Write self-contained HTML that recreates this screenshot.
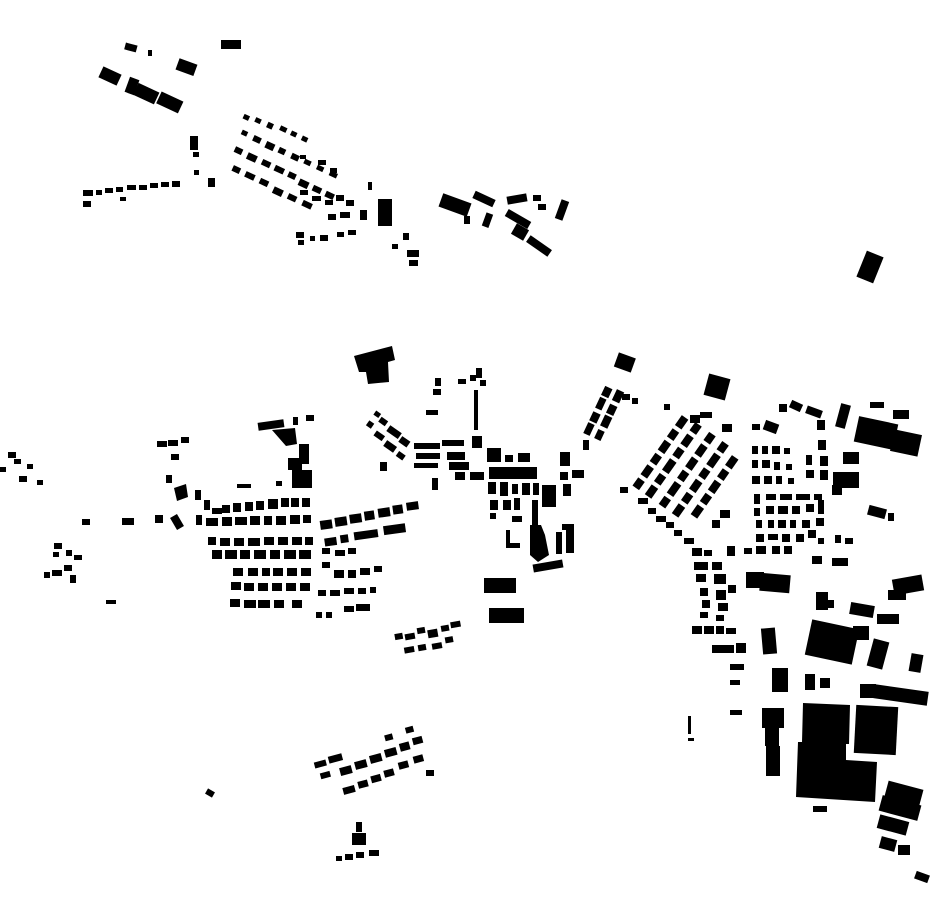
<!DOCTYPE html>
<html><head><meta charset="utf-8"><style>html,body{margin:0;padding:0;background:#fff}svg{display:block}</style></head>
<body>
<svg width="930" height="924" viewBox="0 0 930 924" xmlns="http://www.w3.org/2000/svg" fill="#000">
<!-- top-left cluster -->
<rect x="221" y="40" width="20" height="9"/>
<rect x="125" y="44" width="12" height="7" transform="rotate(15 131 47)"/>
<rect x="148" y="50" width="4" height="6"/>
<rect x="100" y="70" width="20" height="12" transform="rotate(25 110 76)"/>
<rect x="177" y="61" width="19" height="12" transform="rotate(20 186 67)"/>
<rect x="127" y="78" width="10" height="16" transform="rotate(20 132 86)"/>
<rect x="135" y="87" width="23" height="13" transform="rotate(25 146 93)"/>
<rect x="158" y="96" width="24" height="13" transform="rotate(25 170 102)"/>
<rect x="190" y="136" width="8" height="14"/>
<rect x="193" y="152" width="6" height="5"/>
<rect x="194" y="170" width="5" height="5"/>
<rect x="83" y="190" width="10" height="6"/><rect x="83" y="201" width="8" height="6"/>
<rect x="96" y="190" width="6" height="5"/><rect x="105" y="188" width="8" height="5"/>
<rect x="116" y="187" width="7" height="5"/><rect x="127" y="185" width="9" height="5"/>
<rect x="139" y="185" width="8" height="5"/><rect x="150" y="183" width="8" height="5"/>
<rect x="161" y="182" width="8" height="5"/><rect x="172" y="181" width="8" height="6"/>
<rect x="120" y="197" width="6" height="4"/>
<rect x="208" y="178" width="7" height="9"/>
<g transform="rotate(25 280 180)">
<rect x="220" y="135" width="6" height="5"/><rect x="232" y="133" width="6" height="5"/><rect x="245" y="132" width="6" height="6"/>
<rect x="258" y="130" width="7" height="5"/><rect x="270" y="130" width="6" height="5"/><rect x="282" y="130" width="6" height="5"/>
<rect x="225" y="150" width="6" height="5"/><rect x="238" y="150" width="8" height="6"/><rect x="252" y="150" width="9" height="7"/>
<rect x="266" y="150" width="7" height="6"/><rect x="280" y="150" width="8" height="6"/><rect x="294" y="150" width="7" height="5"/>
<rect x="308" y="150" width="7" height="5"/><rect x="322" y="150" width="8" height="5"/>
<rect x="226" y="168" width="8" height="6"/><rect x="240" y="168" width="10" height="7"/><rect x="256" y="168" width="9" height="6"/>
<rect x="270" y="168" width="10" height="6"/><rect x="285" y="168" width="8" height="6"/><rect x="298" y="170" width="10" height="7"/>
<rect x="313" y="170" width="9" height="6"/><rect x="327" y="170" width="9" height="6"/>
<rect x="232" y="186" width="8" height="6"/><rect x="246" y="186" width="10" height="6"/><rect x="262" y="186" width="9" height="6"/>
<rect x="278" y="188" width="10" height="7"/><rect x="294" y="188" width="9" height="6"/><rect x="310" y="188" width="10" height="6"/>
</g>
<rect x="300" y="155" width="6" height="4"/><rect x="318" y="160" width="8" height="5"/><rect x="330" y="168" width="7" height="5"/>
<rect x="300" y="190" width="8" height="5"/><rect x="312" y="196" width="9" height="5"/><rect x="325" y="200" width="8" height="5"/>
<rect x="336" y="195" width="8" height="6"/><rect x="340" y="212" width="10" height="6"/><rect x="328" y="214" width="8" height="6"/>
<rect x="346" y="200" width="8" height="6"/><rect x="360" y="210" width="7" height="10"/>
<rect x="368" y="182" width="4" height="8"/>
<rect x="378" y="199" width="14" height="27"/>
<rect x="296" y="232" width="8" height="6"/><rect x="298" y="240" width="6" height="5"/><rect x="310" y="236" width="5" height="5"/>
<rect x="320" y="235" width="8" height="6"/><rect x="337" y="232" width="7" height="5"/><rect x="348" y="230" width="8" height="5"/>
<rect x="403" y="233" width="6" height="7"/><rect x="392" y="244" width="6" height="5"/>
<rect x="407" y="250" width="12" height="7"/><rect x="409" y="260" width="9" height="6"/>
<rect x="440" y="198" width="30" height="14" transform="rotate(20 455 205)"/>
<rect x="473" y="195" width="22" height="8" transform="rotate(25 484 199)"/>
<rect x="507" y="195" width="20" height="8" transform="rotate(-10 517 199)"/>
<rect x="484" y="213" width="7" height="14" transform="rotate(20 487 220)"/>
<rect x="464" y="216" width="6" height="8"/>
<rect x="533" y="195" width="8" height="6"/><rect x="538" y="204" width="8" height="6"/>
<rect x="558" y="200" width="8" height="20" transform="rotate(20 562 210)"/>
<rect x="505" y="215" width="26" height="8" transform="rotate(30 518 219)"/>
<rect x="513" y="226" width="14" height="12" transform="rotate(30 520 232)"/>
<rect x="526" y="242" width="26" height="8" transform="rotate(35 539 246)"/>
<rect x="861" y="253" width="18" height="28" transform="rotate(22 870 267)"/>
<!-- central clusters -->
<polygon points="354,356 392,346 395,360 388,362 389,382 368,384 366,372 359,372"/>
<rect x="435" y="378" width="6" height="8"/><rect x="433" y="389" width="8" height="6"/>
<rect x="458" y="379" width="8" height="5"/><rect x="470" y="375" width="6" height="6"/><rect x="476" y="368" width="6" height="10"/>
<rect x="480" y="380" width="6" height="6"/>
<rect x="426" y="410" width="12" height="5"/>
<rect x="474" y="390" width="4" height="40"/>
<rect x="472" y="436" width="10" height="12"/>
<g transform="rotate(35 380 440)">
<rect x="360" y="418" width="6" height="5"/><rect x="368" y="420" width="8" height="6"/><rect x="380" y="422" width="14" height="7"/>
<rect x="396" y="424" width="10" height="7"/><rect x="360" y="430" width="6" height="6"/><rect x="372" y="434" width="10" height="6"/>
<rect x="386" y="436" width="12" height="7"/><rect x="402" y="438" width="8" height="6"/>
</g>
<rect x="414" y="443" width="26" height="6"/><rect x="442" y="440" width="22" height="6"/>
<rect x="416" y="453" width="24" height="6"/><rect x="447" y="452" width="18" height="8"/>
<rect x="414" y="463" width="24" height="5"/><rect x="449" y="462" width="20" height="8"/>
<rect x="380" y="462" width="7" height="9"/><rect x="432" y="478" width="6" height="12"/>
<rect x="455" y="472" width="10" height="8"/><rect x="470" y="472" width="14" height="8"/>
<rect x="487" y="448" width="14" height="14"/><rect x="505" y="455" width="8" height="7"/><rect x="518" y="453" width="12" height="9"/>
<rect x="489" y="467" width="48" height="12"/>
<rect x="488" y="482" width="8" height="12"/><rect x="500" y="482" width="8" height="14"/><rect x="512" y="484" width="6" height="10"/>
<rect x="522" y="483" width="8" height="12"/><rect x="533" y="483" width="6" height="12"/>
<rect x="542" y="485" width="14" height="22"/>
<rect x="560" y="472" width="8" height="8"/><rect x="572" y="470" width="12" height="8"/>
<rect x="563" y="484" width="8" height="12"/>
<rect x="490" y="500" width="8" height="10"/><rect x="503" y="500" width="8" height="10"/><rect x="514" y="498" width="6" height="12"/>
<rect x="490" y="513" width="6" height="6"/><rect x="512" y="516" width="10" height="6"/>
<rect x="532" y="500" width="6" height="25"/>
<polygon points="506,530 510,530 510,543 520,543 520,548 506,548"/>
<polygon points="530,525 541,525 545,535 549,555 538,562 530,555"/>
<rect x="556" y="532" width="6" height="22"/><rect x="566" y="528" width="8" height="25"/>
<rect x="562" y="524" width="12" height="6"/>
<rect x="533" y="562" width="30" height="8" transform="rotate(-10 548 566)"/>
<rect x="484" y="578" width="32" height="15"/>
<rect x="489" y="608" width="35" height="15"/>
<g transform="rotate(-65 605 410)">
<rect x="575" y="400" width="12" height="7"/><rect x="589" y="400" width="10" height="8"/><rect x="603" y="400" width="12" height="7"/>
<rect x="617" y="400" width="10" height="8"/><rect x="575" y="412" width="10" height="7"/><rect x="589" y="412" width="12" height="8"/>
<rect x="603" y="412" width="10" height="8"/><rect x="617" y="412" width="12" height="8"/>
</g>
<rect x="560" y="452" width="10" height="14"/><rect x="583" y="440" width="6" height="10"/>
<rect x="616" y="355" width="18" height="15" transform="rotate(20 625 362)"/>
<rect x="622" y="394" width="8" height="6"/><rect x="632" y="398" width="6" height="6"/>
<!-- left village -->
<rect x="258" y="421" width="26" height="8" transform="rotate(-8 271 425)"/>
<polygon points="272,430 295,428 297,444 286,446"/>
<rect x="293" y="417" width="5" height="8"/><rect x="306" y="415" width="8" height="6"/>
<rect x="299" y="444" width="10" height="20"/>
<rect x="288" y="458" width="14" height="12"/>
<rect x="292" y="470" width="20" height="18"/>
<rect x="276" y="481" width="6" height="5"/>
<rect x="157" y="441" width="10" height="6"/><rect x="168" y="440" width="10" height="6"/><rect x="181" y="437" width="8" height="6"/>
<rect x="171" y="454" width="8" height="6"/><rect x="166" y="475" width="6" height="8"/>
<polygon points="174,488 186,484 188,497 177,501"/>
<rect x="195" y="490" width="6" height="10"/>
<rect x="173" y="515" width="8" height="14" transform="rotate(-30 177 522)"/>
<rect x="155" y="515" width="8" height="8"/><rect x="122" y="518" width="12" height="7"/><rect x="82" y="519" width="8" height="6"/>
<rect x="237" y="484" width="14" height="4"/>
<g>
<rect x="204" y="500" width="6" height="10"/><rect x="212" y="508" width="10" height="6"/>
<rect x="222" y="505" width="8" height="8"/><rect x="233" y="503" width="8" height="9"/><rect x="245" y="502" width="8" height="9"/>
<rect x="256" y="501" width="8" height="9"/><rect x="268" y="499" width="10" height="10"/><rect x="281" y="498" width="8" height="9"/>
<rect x="291" y="498" width="8" height="9"/><rect x="302" y="498" width="8" height="9"/>
<rect x="196" y="515" width="6" height="10"/><rect x="206" y="518" width="12" height="8"/><rect x="222" y="517" width="10" height="9"/>
<rect x="235" y="517" width="12" height="8"/><rect x="250" y="516" width="10" height="9"/><rect x="264" y="516" width="8" height="9"/>
<rect x="276" y="516" width="10" height="9"/><rect x="290" y="515" width="10" height="9"/><rect x="303" y="515" width="8" height="8"/>
<rect x="208" y="537" width="8" height="8"/><rect x="220" y="538" width="10" height="8"/><rect x="234" y="538" width="10" height="8"/>
<rect x="248" y="538" width="12" height="8"/><rect x="264" y="537" width="10" height="8"/><rect x="278" y="537" width="10" height="8"/>
<rect x="292" y="537" width="10" height="8"/><rect x="305" y="537" width="8" height="8"/>
<rect x="212" y="550" width="10" height="9"/><rect x="225" y="550" width="12" height="9"/><rect x="240" y="550" width="10" height="9"/>
<rect x="254" y="550" width="12" height="9"/><rect x="270" y="550" width="10" height="9"/><rect x="284" y="550" width="12" height="9"/>
<rect x="299" y="550" width="12" height="9"/>
<rect x="233" y="568" width="10" height="8"/><rect x="248" y="568" width="10" height="8"/><rect x="262" y="568" width="8" height="8"/>
<rect x="273" y="568" width="10" height="8"/><rect x="287" y="568" width="10" height="8"/><rect x="301" y="568" width="10" height="8"/>
<rect x="231" y="582" width="10" height="8"/><rect x="244" y="583" width="10" height="8"/><rect x="258" y="583" width="10" height="8"/>
<rect x="272" y="583" width="10" height="8"/><rect x="286" y="583" width="10" height="8"/><rect x="300" y="583" width="10" height="8"/>
<rect x="230" y="599" width="10" height="8"/><rect x="244" y="600" width="12" height="8"/><rect x="258" y="600" width="12" height="8"/>
<rect x="274" y="600" width="10" height="8"/><rect x="292" y="600" width="10" height="8"/>
</g>
<g transform="rotate(-8 370 520)">
<rect x="320" y="514" width="12" height="9"/><rect x="335" y="513" width="12" height="9"/><rect x="350" y="512" width="12" height="9"/>
<rect x="365" y="511" width="10" height="9"/><rect x="379" y="510" width="12" height="9"/><rect x="394" y="509" width="10" height="9"/>
<rect x="408" y="508" width="12" height="8"/>
<rect x="322" y="532" width="12" height="8"/><rect x="338" y="531" width="8" height="8"/><rect x="352" y="530" width="24" height="8"/>
<rect x="382" y="528" width="22" height="9"/>
</g>
<g>
<rect x="322" y="548" width="8" height="6"/><rect x="335" y="550" width="10" height="6"/><rect x="348" y="548" width="8" height="6"/>
<rect x="322" y="562" width="8" height="6"/><rect x="334" y="570" width="10" height="8"/><rect x="348" y="570" width="8" height="8"/>
<rect x="360" y="568" width="10" height="7"/><rect x="374" y="566" width="8" height="6"/>
<rect x="318" y="590" width="8" height="6"/><rect x="330" y="590" width="10" height="6"/><rect x="344" y="588" width="10" height="6"/>
<rect x="358" y="588" width="8" height="6"/><rect x="370" y="587" width="6" height="6"/>
<rect x="316" y="612" width="6" height="6"/><rect x="326" y="612" width="6" height="6"/><rect x="344" y="606" width="10" height="6"/>
<rect x="356" y="604" width="14" height="7"/>
</g>
<!-- far left -->
<rect x="8" y="452" width="8" height="6"/><rect x="14" y="459" width="7" height="5"/><rect x="0" y="467" width="6" height="5"/>
<rect x="19" y="476" width="8" height="6"/><rect x="27" y="464" width="6" height="5"/><rect x="37" y="480" width="6" height="5"/>
<rect x="54" y="543" width="8" height="6"/><rect x="53" y="552" width="6" height="5"/><rect x="66" y="550" width="6" height="6"/>
<rect x="74" y="555" width="8" height="5"/><rect x="44" y="572" width="6" height="6"/><rect x="52" y="570" width="10" height="6"/>
<rect x="64" y="565" width="8" height="6"/><rect x="70" y="575" width="6" height="8"/>
<rect x="106" y="600" width="10" height="4"/>
<!-- small cluster center south -->
<g transform="rotate(-10 430 635)">
<rect x="395" y="628" width="8" height="6"/><rect x="405" y="630" width="10" height="6"/><rect x="418" y="626" width="8" height="6"/>
<rect x="428" y="630" width="10" height="8"/><rect x="442" y="628" width="8" height="6"/><rect x="452" y="626" width="10" height="6"/>
<rect x="402" y="643" width="10" height="6"/><rect x="416" y="643" width="8" height="6"/><rect x="430" y="644" width="10" height="6"/>
<rect x="444" y="640" width="8" height="6"/>
</g>
<!-- south -->
<g transform="rotate(-15 370 760)">
<rect x="315" y="748" width="12" height="6"/><rect x="330" y="746" width="14" height="7"/><rect x="318" y="760" width="10" height="6"/>
<rect x="338" y="760" width="12" height="8"/><rect x="354" y="758" width="12" height="8"/><rect x="370" y="756" width="12" height="8"/>
<rect x="386" y="754" width="12" height="8"/><rect x="402" y="752" width="10" height="8"/><rect x="416" y="750" width="10" height="7"/>
<rect x="390" y="740" width="8" height="6"/><rect x="412" y="738" width="8" height="6"/>
<rect x="336" y="780" width="12" height="7"/><rect x="352" y="778" width="10" height="7"/><rect x="366" y="776" width="10" height="7"/>
<rect x="380" y="774" width="10" height="7"/><rect x="396" y="770" width="10" height="7"/><rect x="412" y="768" width="10" height="7"/>
</g>
<rect x="426" y="770" width="8" height="6"/>
<rect x="206" y="790" width="8" height="6" transform="rotate(30 210 793)"/>
<rect x="352" y="833" width="14" height="12"/><rect x="356" y="822" width="6" height="10"/>
<rect x="336" y="856" width="6" height="5"/><rect x="345" y="854" width="8" height="6"/><rect x="356" y="852" width="8" height="6"/>
<rect x="369" y="850" width="10" height="6"/>
<!-- east town -->
<rect x="706" y="376" width="22" height="22" transform="rotate(15 717 387)"/>
<rect x="664" y="404" width="6" height="6"/>
<g transform="rotate(-55 680 470)">
<rect x="640" y="440" width="10" height="8"/><rect x="654" y="440" width="12" height="8"/><rect x="670" y="440" width="10" height="8"/>
<rect x="684" y="440" width="12" height="8"/><rect x="700" y="440" width="10" height="8"/><rect x="714" y="440" width="12" height="8"/>
<rect x="640" y="455" width="12" height="8"/><rect x="656" y="455" width="10" height="8"/><rect x="670" y="455" width="14" height="8"/>
<rect x="688" y="455" width="10" height="8"/><rect x="702" y="455" width="12" height="8"/><rect x="718" y="455" width="10" height="8"/>
<rect x="640" y="472" width="10" height="8"/><rect x="654" y="472" width="14" height="8"/><rect x="672" y="472" width="10" height="8"/>
<rect x="686" y="472" width="12" height="8"/><rect x="702" y="472" width="12" height="8"/><rect x="718" y="472" width="10" height="8"/>
<rect x="640" y="488" width="12" height="8"/><rect x="656" y="488" width="10" height="8"/><rect x="670" y="488" width="12" height="8"/>
<rect x="686" y="488" width="10" height="8"/><rect x="700" y="488" width="14" height="8"/><rect x="718" y="488" width="10" height="8"/>
<rect x="650" y="504" width="12" height="8"/><rect x="666" y="504" width="10" height="8"/><rect x="680" y="504" width="12" height="8"/>
<rect x="696" y="504" width="10" height="8"/><rect x="710" y="504" width="12" height="8"/>
</g>
<rect x="690" y="415" width="10" height="8"/><rect x="700" y="412" width="12" height="6"/><rect x="722" y="424" width="10" height="8"/>
<rect x="620" y="487" width="8" height="6"/><rect x="638" y="498" width="10" height="6"/><rect x="648" y="508" width="8" height="6"/>
<rect x="656" y="516" width="10" height="6"/><rect x="666" y="522" width="8" height="6"/><rect x="674" y="530" width="8" height="6"/>
<rect x="684" y="538" width="10" height="6"/><rect x="692" y="548" width="10" height="8"/><rect x="704" y="550" width="8" height="6"/>
<rect x="712" y="520" width="8" height="8"/><rect x="720" y="510" width="10" height="8"/>
<rect x="694" y="562" width="14" height="8"/><rect x="712" y="562" width="10" height="8"/>
<rect x="696" y="574" width="10" height="8"/><rect x="714" y="574" width="12" height="10"/>
<rect x="700" y="588" width="8" height="8"/><rect x="716" y="590" width="10" height="10"/><rect x="728" y="585" width="8" height="8"/>
<rect x="702" y="600" width="8" height="8"/><rect x="718" y="603" width="10" height="8"/>
<rect x="700" y="612" width="8" height="6"/><rect x="716" y="615" width="8" height="6"/>
<rect x="692" y="626" width="10" height="8"/><rect x="704" y="626" width="10" height="8"/><rect x="716" y="626" width="8" height="8"/>
<rect x="726" y="628" width="10" height="6"/>
<rect x="712" y="645" width="22" height="8"/><rect x="736" y="643" width="10" height="10"/>
<rect x="730" y="664" width="14" height="6"/><rect x="730" y="680" width="10" height="5"/>
<rect x="730" y="710" width="12" height="5"/>
<rect x="688" y="716" width="3" height="18"/><rect x="688" y="738" width="6" height="3"/>
<rect x="727" y="546" width="8" height="10"/>
<!-- east grid -->
<g>
<rect x="752" y="424" width="8" height="6"/><rect x="764" y="422" width="14" height="10" transform="rotate(20 771 427)"/>
<rect x="779" y="404" width="8" height="8"/><rect x="790" y="402" width="12" height="8" transform="rotate(25 796 406)"/>
<rect x="806" y="408" width="16" height="8" transform="rotate(20 814 412)"/><rect x="817" y="420" width="8" height="10"/>
<rect x="838" y="404" width="10" height="24" transform="rotate(15 843 416)"/>
<rect x="870" y="402" width="14" height="6"/><rect x="893" y="410" width="16" height="9"/>
<rect x="755" y="440" width="80" height="90" fill="none"/>
</g>
<g>
<rect x="752" y="446" width="6" height="8"/><rect x="762" y="446" width="6" height="8"/><rect x="772" y="446" width="8" height="8"/>
<rect x="784" y="448" width="6" height="6"/><rect x="806" y="455" width="6" height="10"/><rect x="818" y="440" width="8" height="10"/>
<rect x="752" y="460" width="6" height="8"/><rect x="762" y="460" width="8" height="8"/><rect x="774" y="462" width="6" height="8"/>
<rect x="786" y="464" width="6" height="6"/><rect x="806" y="470" width="8" height="8"/><rect x="820" y="456" width="8" height="10"/>
<rect x="752" y="476" width="8" height="8"/><rect x="764" y="476" width="8" height="8"/><rect x="776" y="476" width="6" height="8"/>
<rect x="788" y="478" width="6" height="6"/><rect x="820" y="470" width="8" height="10"/>
<rect x="754" y="494" width="6" height="10"/><rect x="766" y="494" width="10" height="6"/><rect x="780" y="494" width="12" height="6"/>
<rect x="796" y="494" width="14" height="6"/><rect x="814" y="494" width="8" height="6"/>
<rect x="754" y="508" width="6" height="8"/><rect x="766" y="506" width="8" height="8"/><rect x="778" y="506" width="10" height="8"/>
<rect x="792" y="506" width="8" height="8"/><rect x="806" y="504" width="8" height="8"/><rect x="818" y="500" width="6" height="14"/>
<rect x="756" y="520" width="6" height="8"/><rect x="768" y="520" width="6" height="8"/><rect x="778" y="520" width="8" height="8"/>
<rect x="790" y="520" width="6" height="8"/><rect x="802" y="520" width="8" height="8"/><rect x="816" y="518" width="8" height="8"/>
<rect x="756" y="534" width="8" height="8"/><rect x="768" y="534" width="10" height="6"/><rect x="782" y="534" width="8" height="8"/>
<rect x="796" y="534" width="8" height="8"/><rect x="808" y="530" width="8" height="8"/>
<rect x="744" y="548" width="8" height="6"/><rect x="756" y="546" width="10" height="8"/><rect x="772" y="546" width="8" height="8"/>
<rect x="784" y="546" width="8" height="8"/><rect x="818" y="538" width="6" height="6"/>
<rect x="812" y="556" width="10" height="8"/>
<rect x="835" y="535" width="6" height="8"/><rect x="845" y="538" width="8" height="6"/>
<rect x="832" y="558" width="16" height="8"/>
</g>
<rect x="856" y="420" width="40" height="26" transform="rotate(12 876 433)"/>
<rect x="892" y="432" width="28" height="22" transform="rotate(12 906 443)"/>
<rect x="843" y="452" width="16" height="12"/>
<rect x="833" y="472" width="26" height="16"/>
<rect x="832" y="485" width="10" height="10"/>
<rect x="868" y="507" width="18" height="10" transform="rotate(15 877 512)"/>
<rect x="888" y="513" width="6" height="8"/>
<!-- industrial -->
<rect x="746" y="572" width="18" height="16"/>
<rect x="760" y="574" width="30" height="18" transform="rotate(5 775 583)"/>
<rect x="816" y="592" width="12" height="18"/><rect x="824" y="600" width="10" height="8"/>
<rect x="850" y="604" width="24" height="12" transform="rotate(10 862 610)"/>
<rect x="877" y="614" width="22" height="10"/>
<rect x="893" y="577" width="30" height="16" transform="rotate(-10 908 585)"/>
<rect x="888" y="590" width="18" height="10"/>
<rect x="762" y="628" width="14" height="26" transform="rotate(-5 769 641)"/>
<rect x="808" y="624" width="48" height="36" transform="rotate(12 832 642)"/>
<rect x="853" y="626" width="16" height="14"/>
<rect x="870" y="640" width="16" height="28" transform="rotate(15 878 654)"/>
<rect x="910" y="654" width="12" height="18" transform="rotate(10 916 663)"/>
<rect x="772" y="668" width="16" height="24"/>
<rect x="805" y="674" width="10" height="16"/><rect x="820" y="678" width="10" height="10"/>
<rect x="860" y="684" width="16" height="14"/>
<rect x="874" y="688" width="54" height="14" transform="rotate(8 901 695)"/>
<rect x="762" y="708" width="22" height="20"/><rect x="765" y="728" width="14" height="18"/>
<rect x="766" y="746" width="14" height="30"/>
<polygon points="803,703 850,705 849,744 846,744 846,760 877,762 875,802 796,797 798,742 802,742"/>
<rect x="855" y="706" width="42" height="48" transform="rotate(3 876 730)"/>
<rect x="813" y="806" width="14" height="6"/>
<rect x="886" y="785" width="36" height="16" transform="rotate(15 904 793)"/>
<rect x="880" y="800" width="40" height="16" transform="rotate(15 900 808)"/>
<rect x="878" y="818" width="30" height="14" transform="rotate(15 893 825)"/>
<rect x="880" y="838" width="16" height="12" transform="rotate(15 888 844)"/>
<rect x="898" y="845" width="12" height="10"/>
<rect x="915" y="873" width="14" height="8" transform="rotate(20 922 877)"/>
</svg>
</body></html>
